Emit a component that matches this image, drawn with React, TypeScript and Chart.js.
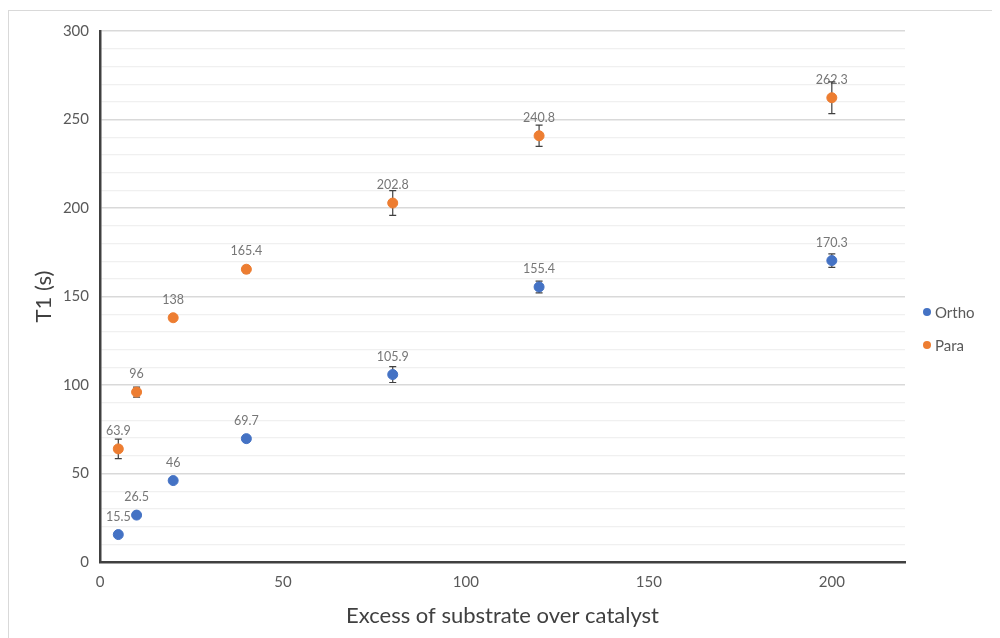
import React, { useEffect, useRef } from "react";
import { Chart, registerables } from "chart.js";

Chart.register(...registerables);

const xValues = [5, 10, 20, 40, 80, 120, 200];
const orthoValues = [15.5, 26.5, 46, 69.7, 105.9, 155.4, 170.3];
const orthoErrors = [0, 0, 0, 0.8, 4.5, 3.3, 3.8];
const paraValues = [63.9, 96, 138, 165.4, 202.8, 240.8, 262.3];
const paraErrors = [5.5, 2.8, 0, 2, 7, 6, 9];
const seriesNames = ["Ortho", "Para"];
const seriesColors = ["#4472C4", "#ED7D31"];
const xTitle = "Excess of substrate over catalyst";
const yTitle = "T1 (s)";

const FONT = "Lato, 'Open Sans', sans-serif";

const errorsBySeries = [orthoErrors, paraErrors];

const labelsAndErrorBars = {
  id: "labelsAndErrorBars",
  beforeDatasetsDraw(chart: any) {
    const ctx = chart.ctx;
    const xs = chart.scales.x;
    const ys = chart.scales.y;
    ctx.save();
    ctx.font = `12.5px ${FONT}`;
    ctx.fillStyle = "#767676";
    ctx.textAlign = "center";
    ctx.textBaseline = "middle";
    chart.data.datasets.forEach((ds: any) => {
      ds.data.forEach((p: any) => {
        const px = xs.getPixelForValue(p.x);
        const py = ys.getPixelForValue(p.y);
        ctx.fillText(String(p.y), px, py - 18);
      });
    });
    ctx.strokeStyle = "#404040";
    ctx.lineWidth = 1.2;
    chart.data.datasets.forEach((ds: any, di: number) => {
      const errs = errorsBySeries[di];
      ds.data.forEach((p: any, i: number) => {
        const e = errs[i];
        if (!e) return;
        const px = xs.getPixelForValue(p.x);
        const top = ys.getPixelForValue(p.y + e);
        const bot = ys.getPixelForValue(p.y - e);
        ctx.beginPath();
        ctx.moveTo(px, top);
        ctx.lineTo(px, bot);
        ctx.moveTo(px - 3.5, top);
        ctx.lineTo(px + 3.5, top);
        ctx.moveTo(px - 3.5, bot);
        ctx.lineTo(px + 3.5, bot);
        ctx.stroke();
      });
    });
    ctx.restore();
  },
};

const customLegend = {
  id: "customLegend",
  afterDraw(chart: any) {
    const ctx = chart.ctx;
    const x0 = chart.chartArea.right + 22;
    const y0 = 301;
    ctx.save();
    ctx.font = `15px ${FONT}`;
    ctx.textBaseline = "middle";
    ctx.textAlign = "left";
    seriesNames.forEach((name, i) => {
      const y = y0 + i * 33;
      ctx.beginPath();
      ctx.fillStyle = seriesColors[i];
      ctx.arc(x0, y, 4, 0, Math.PI * 2);
      ctx.fill();
      ctx.fillStyle = "#595959";
      ctx.fillText(name, x0 + 8, y + 1);
    });
    ctx.restore();
  },
};

export default function App() {
  const canvasRef = useRef<HTMLCanvasElement | null>(null);

  useEffect(() => {
    document.body.style.overflow = "hidden";
    const canvas = canvasRef.current;
    if (!canvas) return;
    const chart = new Chart(canvas, {
      type: "scatter",
      data: {
        datasets: [
          {
            label: seriesNames[0],
            data: xValues.map((x, i) => ({ x, y: orthoValues[i] })),
            backgroundColor: seriesColors[0],
            borderColor: seriesColors[0],
            pointRadius: 5,
            pointHoverRadius: 5,
          },
          {
            label: seriesNames[1],
            data: xValues.map((x, i) => ({ x, y: paraValues[i] })),
            backgroundColor: seriesColors[1],
            borderColor: seriesColors[1],
            pointRadius: 5,
            pointHoverRadius: 5,
          },
        ],
      },
      plugins: [labelsAndErrorBars, customLegend],
      options: {
        animation: false,
        responsive: true,
        maintainAspectRatio: false,
        layout: { padding: { top: 15, right: 95, left: 0, bottom: 0 } },
        plugins: {
          legend: { display: false },
          tooltip: { enabled: false },
        },
        scales: {
          x: {
            type: "linear",
            min: 0,
            max: 220,
            afterFit: (s: any) => {
              s.height = 76;
            },
            ticks: {
              stepSize: 50,
              color: "#595959",
              font: { family: FONT, size: 15 },
              padding: 11,
              callback: (v: any) => (Number(v) % 50 === 0 ? String(v) : ""),
            },
            grid: { display: false, drawTicks: false },
            border: { display: true, color: "#404040", width: 2.5 },
            title: {
              display: true,
              text: xTitle,
              color: "#404040",
              font: { family: FONT, size: 22 },
              padding: { top: 0, bottom: 9 },
            },
          },
          y: {
            type: "linear",
            min: 0,
            max: 300,
            afterFit: (s: any) => {
              s.width = 91;
            },
            ticks: {
              stepSize: 10,
              autoSkip: false,
              color: "#595959",
              font: { family: FONT, size: 15 },
              padding: 11,
              callback: (v: any) => (Number(v) % 50 === 0 ? String(v) : ""),
            },
            grid: {
              drawTicks: false,
              color: (c: any) =>
                c.tick && c.tick.value % 50 === 0 ? "#d9d9d9" : "#f0f0f0",
              lineWidth: (c: any) => (c.tick && c.tick.value % 50 === 0 ? 1.5 : 1.2),
            },
            border: { display: true, color: "#404040", width: 2.5 },
            title: {
              display: true,
              text: yTitle,
              color: "#404040",
              font: { family: FONT, size: 22 },
              padding: { top: 22, bottom: 0 },
            },
          },
        },
      },
    });
    return () => chart.destroy();
  }, []);

  return (
    <div
      style={{
        marginTop: 2,
        width: 992,
        height: 628,
        boxSizing: "border-box",
        borderTop: "1px solid #d9d9d9",
        borderLeft: "1px solid #d9d9d9",
        position: "relative",
      }}
    >
      <canvas ref={canvasRef} />
    </div>
  );
}
